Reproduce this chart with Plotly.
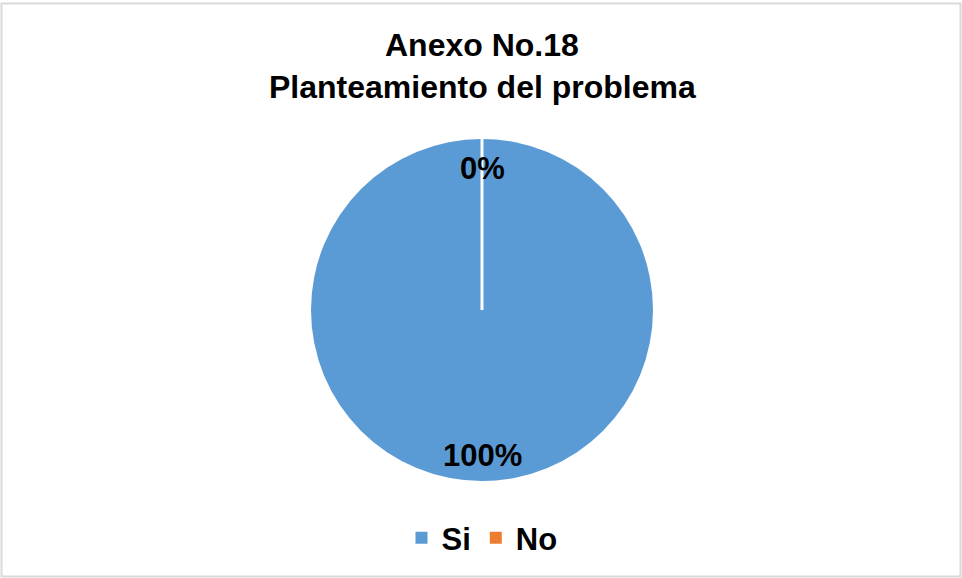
import plotly.graph_objects as go

categories = ["Si", "No"]
values = [100, 0]
colors = ["#5B9BD5", "#ED7D31"]
title_lines = ["Anexo No.18", "Planteamiento del problema"]

W, H = 962, 578
cx, cy, r = 482, 310, 171
FONT = "Liberation Sans, Arial"

total = sum(values)
pcts = [f"{round(v / total * 100)}%" for v in values]

fig = go.Figure()
fig.add_trace(go.Pie(
    labels=categories, values=values,
    marker=dict(colors=colors, line=dict(color="white", width=0)),
    sort=False, direction="clockwise", rotation=0,
    textinfo="none", hoverinfo="label+percent",
    domain=dict(x=[(cx - r) / W, (cx + r) / W], y=[(H - cy - r) / H, (H - cy + r) / H]),
    showlegend=True,
))

# white separator (the 0% slice boundary)
fig.add_shape(type="line", xref="paper", yref="paper",
              x0=cx / W, x1=cx / W, y0=(H - cy) / H, y1=(H - cy + r) / H,
              line=dict(color="white", width=3))

# percentage labels
fig.add_annotation(text="<b>" + pcts[1] + "</b>", x=cx / W, y=(H - 168) / H, xref="paper", yref="paper",
                   showarrow=False, font=dict(size=31, color="black", family=FONT),
                   xanchor="center", yanchor="middle")
fig.add_annotation(text="<b>" + pcts[0] + "</b>", x=cx / W, y=(H - 455) / H, xref="paper", yref="paper",
                   showarrow=False, font=dict(size=31, color="black", family=FONT),
                   xanchor="center", yanchor="middle")

# title lines
for i, line in enumerate(title_lines):
    fig.add_annotation(text="<b>" + line + "</b>", x=cx / W, y=(H - (45 + 42 * i)) / H,
                       xref="paper", yref="paper", showarrow=False,
                       font=dict(size=32, color="black", family=FONT),
                       xanchor="center", yanchor="middle")

# border
fig.add_shape(type="rect", xref="paper", yref="paper",
              x0=1.5 / W, x1=(W - 1.5) / W, y0=1.5 / H, y1=(H - 3.5) / H,
              line=dict(color="#d9d9d9", width=2))

fig.update_layout(
    width=W, height=H,
    margin=dict(l=0, r=0, t=0, b=0),
    paper_bgcolor="white", plot_bgcolor="white",
    font=dict(family=FONT, color="black"),
    legend=dict(orientation="h", x=cx / W, xanchor="center", y=(H - 538) / H, yanchor="middle",
                font=dict(size=31, color="black", family=FONT, weight="bold"), itemwidth=30),
)

fig.write_html("out.html")
